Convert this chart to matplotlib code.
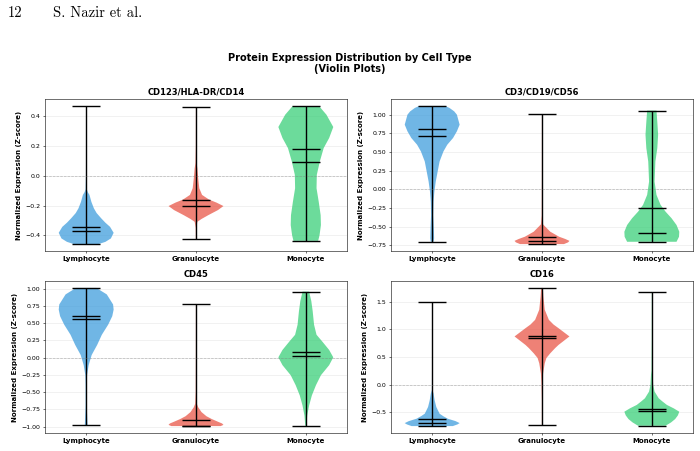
import matplotlib
matplotlib.use("Agg")
import matplotlib.pyplot as plt
import numpy as np

cell_types = ['Lymphocyte', 'Granulocyte', 'Monocyte']
markers = ['CD123/HLA-DR/CD14', 'CD3/CD19/CD56', 'CD45', 'CD16']
colors = ['#3498db', '#e74c3c', '#2ecc71']

# density profiles: y levels and relative half-widths
# CD123/HLA-DR/CD14
cd123_lym_y = [-0.459, -0.444, -0.421, -0.383, -0.343, -0.315, -0.286, -0.25, -0.218, -0.175, -0.128, -0.11, -0.09, 0.0, 0.2, 0.471]
cd123_lym_w = [0.45, 0.7, 0.9, 1.0, 0.87, 0.7, 0.55, 0.38, 0.28, 0.19, 0.12, 0.06, 0.02, 0.008, 0.004, 0.003]
cd123_gra_y = [-0.428, -0.35, -0.309, -0.29, -0.264, -0.23, -0.203, -0.18, -0.16, -0.128, -0.083, -0.016, 0.05, 0.086, 0.2, 0.464]
cd123_gra_w = [0.005, 0.01, 0.05, 0.2, 0.45, 0.8, 1.0, 0.75, 0.48, 0.22, 0.12, 0.08, 0.05, 0.02, 0.006, 0.003]
cd123_mon_y = [-0.437, -0.399, -0.331, -0.264, -0.174, -0.083, 0.007, 0.097, 0.187, 0.255, 0.329, 0.412, 0.468]
cd123_mon_w = [0.45, 0.5, 0.55, 0.54, 0.47, 0.39, 0.4, 0.51, 0.65, 0.85, 1.0, 0.75, 0.49]
cd123_mean = [-0.347, -0.160, 0.182]
cd123_median = [-0.374, -0.203, 0.093]

# CD3/CD19/CD56
cd3_lym_y = [-0.702, -0.656, -0.522, -0.344, -0.165, -0.031, 0.103, 0.238, 0.372, 0.506, 0.596, 0.686, 0.775, 0.864, 0.998, 1.043, 1.088, 1.115]
cd3_lym_w = [0.05, 0.07, 0.06, 0.04, 0.05, 0.08, 0.13, 0.2, 0.27, 0.41, 0.55, 0.76, 0.9, 1.0, 0.9, 0.8, 0.63, 0.47]
cd3_gra_y = [-0.733, -0.71, -0.69, -0.665, -0.634, -0.567, -0.5, -0.47, -0.35, 0.2, 1.008]
cd3_gra_w = [0.8, 0.95, 1.0, 0.85, 0.62, 0.3, 0.12, 0.04, 0.01, 0.004, 0.003]
cd3_mon_y = [-0.702, -0.635, -0.568, -0.478, -0.388, -0.299, -0.209, -0.075, 0.103, 0.372, 0.55, 0.73, 0.9, 1.052]
cd3_mon_w = [0.9, 0.99, 1.0, 0.9, 0.72, 0.5, 0.32, 0.17, 0.1, 0.13, 0.2, 0.23, 0.2, 0.17]
cd3_mean = [0.713, -0.643, -0.254]
cd3_median = [0.800, -0.690, -0.581]

# CD45
cd45_lym_y = [-0.982, -0.89, -0.695, -0.40, -0.256, -0.21, -0.11, 0.037, 0.183, 0.33, 0.476, 0.599, 0.695, 0.769, 0.915, 1.009]
cd45_lym_w = [0.05, 0.04, 0.02, 0.02, 0.03, 0.05, 0.09, 0.2, 0.4, 0.57, 0.8, 0.95, 1.0, 0.98, 0.75, 0.37]
cd45_gra_y = [-0.993, -0.975, -0.955, -0.93, -0.89, -0.85, -0.79, -0.72, -0.67, -0.5, 0.0, 0.783]
cd45_gra_w = [0.9, 1.0, 0.95, 0.8, 0.57, 0.38, 0.2, 0.08, 0.03, 0.01, 0.005, 0.003]
cd45_mon_y = [-0.988, -0.84, -0.695, -0.549, -0.40, -0.256, -0.11, 0.003, 0.11, 0.232, 0.33, 0.476, 0.672, 0.818, 0.955]
cd45_mon_w = [0.02, 0.05, 0.12, 0.22, 0.37, 0.55, 0.85, 1.0, 0.85, 0.6, 0.39, 0.3, 0.25, 0.2, 0.12]
cd45_mean = [0.555, -0.905, 0.076]
cd45_median = [0.608, -0.985, 0.028]

# CD16
cd16_lym_y = [-0.75, -0.72, -0.696, -0.66, -0.617, -0.57, -0.526, -0.405, -0.284, -0.162, -0.1, 0.5, 1.49]
cd16_lym_w = [0.75, 0.92, 1.0, 0.85, 0.57, 0.4, 0.27, 0.15, 0.09, 0.05, 0.01, 0.004, 0.003]
cd16_gra_y = [-0.726, -0.3, 0.02, 0.202, 0.384, 0.48, 0.565, 0.66, 0.716, 0.87, 1.02, 1.085, 1.17, 1.353, 1.595, 1.747]
cd16_gra_w = [0.005, 0.005, 0.02, 0.04, 0.1, 0.16, 0.3, 0.48, 0.6, 1.0, 0.6, 0.42, 0.25, 0.1, 0.05, 0.03]
cd16_mon_y = [-0.744, -0.684, -0.623, -0.556, -0.49, -0.43, -0.368, -0.302, -0.247, -0.126, -0.005, 0.177, 0.25, 0.8, 1.68]
cd16_mon_w = [0.5, 0.7, 0.85, 0.95, 1.0, 0.8, 0.55, 0.38, 0.25, 0.1, 0.05, 0.03, 0.01, 0.004, 0.003]
cd16_mean = [-0.617, 0.874, -0.440]
cd16_median = [-0.690, 0.838, -0.478]

profiles = [
    [(cd123_lym_y, cd123_lym_w), (cd123_gra_y, cd123_gra_w), (cd123_mon_y, cd123_mon_w)],
    [(cd3_lym_y, cd3_lym_w), (cd3_gra_y, cd3_gra_w), (cd3_mon_y, cd3_mon_w)],
    [(cd45_lym_y, cd45_lym_w), (cd45_gra_y, cd45_gra_w), (cd45_mon_y, cd45_mon_w)],
    [(cd16_lym_y, cd16_lym_w), (cd16_gra_y, cd16_gra_w), (cd16_mon_y, cd16_mon_w)],
]
means = [cd123_mean, cd3_mean, cd45_mean, cd16_mean]
medians = [cd123_median, cd3_median, cd45_median, cd16_median]

fig = plt.figure(figsize=(14, 9.02), dpi=50)

# page header
fig.text(8 / 700, 1 - 17 / 451, '12', fontfamily='cmr10', fontsize=21, va='baseline')
fig.text(53 / 700, 1 - 17 / 451, 'S. Nazir et al.', fontfamily='cmr10', fontsize=21, va='baseline')

fig.text(0.5, 1 - 53 / 451, 'Protein Expression Distribution by Cell Type\n(Violin Plots)',
         ha='center', va='top', fontsize=14, fontweight='bold', linespacing=1.15)

axes_rects = [
    [45 / 700, 1 - 251 / 451, 302 / 700, 152 / 451],
    [391 / 700, 1 - 251 / 451, 302 / 700, 152 / 451],
    [45 / 700, 1 - 433 / 451, 302 / 700, 152 / 451],
    [391 / 700, 1 - 433 / 451, 302 / 700, 152 / 451],
]

for i, marker in enumerate(markers):
    ax = fig.add_axes(axes_rects[i])
    stats = []
    for j in range(3):
        ys, ws = profiles[i][j]
        stats.append({
            'coords': np.array(ys),
            'vals': np.array(ws),
            'mean': means[i][j],
            'median': medians[i][j],
            'min': ys[0],
            'max': ys[-1],
        })
    parts = ax.violin(stats, positions=[1, 2, 3], widths=0.5,
                      showmeans=True, showmedians=True, showextrema=True)
    for body, c in zip(parts['bodies'], colors):
        body.set_facecolor(c)
        body.set_edgecolor('none')
        body.set_alpha(0.7)
    for key in ['cmeans', 'cmedians', 'cmins', 'cmaxes', 'cbars']:
        parts[key].set_color('black')
        parts[key].set_linewidth(2)

    ax.axhline(0, color='gray', linestyle='--', alpha=0.5, linewidth=1)
    ax.grid(axis='y', alpha=0.3)
    ax.set_axisbelow(True)
    ax.set_xticks([1, 2, 3])
    ax.set_xticklabels(cell_types, fontsize=10, fontweight='bold')
    ax.tick_params(axis='y', labelsize=9)
    ax.set_ylabel('Normalized Expression (Z-score)', fontsize=10, fontweight='bold')
    ax.set_title(marker, fontsize=12, fontweight='bold')

fig.savefig('out.png', dpi=50)
